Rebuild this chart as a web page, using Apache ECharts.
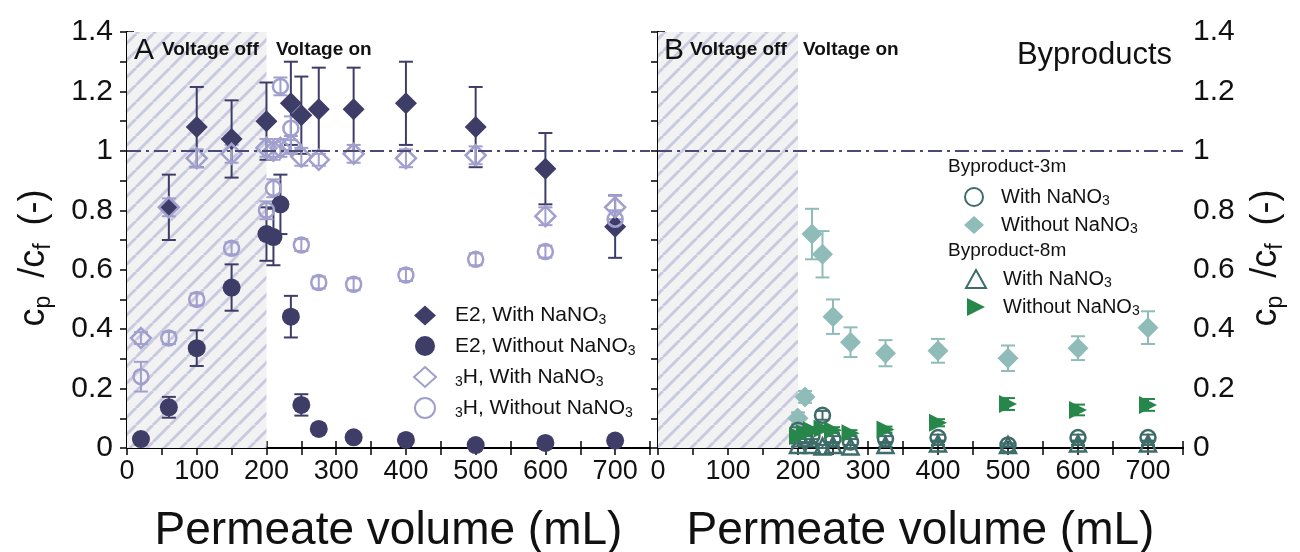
<!DOCTYPE html>
<html>
<head>
<meta charset="utf-8">
<script src="https://cdn.jsdelivr.net/npm/echarts@6/dist/echarts.min.js"></script>
<style>
  html, body { margin: 0; padding: 0; background: #fff; }
  #chart { width: 1300px; height: 552px; }
</style>
</head>
<body>
<div id="chart"></div>
<script>
// [volume mL, cp/cf, error]
const e2With = [[60, 0.81, 0.11], [100, 1.08, 0.135], [150, 1.04, 0.13], [200, 1.10, 0.13], [235, 1.16, 0.14], [250, 1.12, 0.13], [275, 1.14, 0.14], [325, 1.14, 0.14], [400, 1.16, 0.14], [500, 1.08, 0.135], [600, 0.94, 0.12], [700, 0.745, 0.105]]
const e2Without = [[20, 0.03, 0.01], [60, 0.137, 0.035], [100, 0.336, 0.06], [150, 0.54, 0.078], [200, 0.72, 0.09], [210, 0.71, 0.095], [220, 0.82, 0.1], [235, 0.442, 0.07], [250, 0.145, 0.036], [275, 0.064, 0.015], [325, 0.036, 0.01], [400, 0.027, 0.01], [500, 0.01, 0.005], [600, 0.017, 0.005], [700, 0.025, 0.01]]
const h3With = [[20, 0.37, 0.02], [60, 0.81, 0.03], [100, 0.975, 0.03], [150, 0.99, 0.03], [200, 1.01, 0.03], [210, 1.0, 0.03], [220, 1.01, 0.03], [235, 1.02, 0.03], [250, 0.98, 0.03], [275, 0.97, 0.02], [325, 0.99, 0.03], [400, 0.975, 0.03], [500, 0.985, 0.03], [600, 0.78, 0.03], [700, 0.81, 0.04]]
const h3Without = [[20, 0.24, 0.05], [60, 0.37, 0.02], [100, 0.50, 0.02], [150, 0.672, 0.02], [200, 0.80, 0.03], [210, 0.874, 0.03], [220, 1.217, 0.03], [235, 1.076, 0.04], [250, 0.683, 0.02], [275, 0.557, 0.02], [325, 0.551, 0.02], [400, 0.582, 0.02], [500, 0.635, 0.02], [600, 0.661, 0.02], [700, 0.77, 0.03]]

const b3With = [[200, 0.06, 0.01], [210, 0.03, 0.01], [220, 0.04, 0.01], [235, 0.11, 0.015], [250, 0.03, 0.01], [275, 0.02, 0.01], [325, 0.03, 0.01], [400, 0.035, 0.01], [500, 0.01, 0.005], [600, 0.035, 0.01], [700, 0.035, 0.01]]
const b3Without = [[200, 0.10, 0.02], [210, 0.172, 0.02], [220, 0.72, 0.085], [235, 0.652, 0.078], [250, 0.442, 0.058], [275, 0.356, 0.05], [325, 0.319, 0.044], [400, 0.327, 0.04], [500, 0.302, 0.043], [600, 0.336, 0.04], [700, 0.405, 0.055]]
const b8With = [[200, 0.01, 0.005], [220, 0.01, 0.005], [235, 0.005, 0.005], [250, 0.01, 0.005], [275, 0.005, 0.005], [325, 0.01, 0.005], [400, 0.015, 0.005], [500, 0.01, 0.005], [600, 0.015, 0.005], [700, 0.015, 0.005]]
const b8Without = [[200, 0.04, 0.01], [210, 0.05, 0.01], [220, 0.06, 0.01], [235, 0.065, 0.01], [250, 0.06, 0.01], [275, 0.05, 0.01], [325, 0.062, 0.01], [400, 0.085, 0.012], [500, 0.148, 0.02], [600, 0.128, 0.018], [700, 0.145, 0.02]]

const voltageOffEnd = 200
const referenceLevel = 1

const navy = '#3e3d68'
const lav = '#a09fcd'
const tealLight = '#8fbcb8'
const green = '#27874a'
const tealDark = '#3d6c69'
const font = 'Arial, "Liberation Sans", sans-serif'
const rightTri = 'path://M0,0L12,6L0,12Z'

// hatch pattern for the voltage-off region
const hatch = document.createElement('canvas')
hatch.width = 17
hatch.height = 17
const hc = hatch.getContext('2d')
hc.fillStyle = '#f2f2f2'
hc.fillRect(0, 0, 17, 17)
hc.strokeStyle = '#c9c9e0'
hc.lineWidth = 3
for (const k of [-1, 0, 1]) {
  hc.beginPath()
  hc.moveTo(k * 17, 17)
  hc.lineTo(k * 17 + 17, 0)
  hc.stroke()
}

const chart = echarts.init(document.getElementById('chart'))

function errBars(xi, yi, data, color) {
  return {
    type: 'custom',
    xAxisIndex: xi,
    yAxisIndex: yi,
    data: data,
    z: 2,
    silent: true,
    renderItem: (params, api) => {
      const x = api.value(0), y = api.value(1), e = api.value(2)
      const top = api.coord([x, y + e])
      const bot = api.coord([x, y - e])
      const w = 7
      const st = { stroke: color, lineWidth: 2 }
      return {
        type: 'group',
        children: [
          { type: 'line', shape: { x1: top[0], y1: top[1], x2: bot[0], y2: bot[1] }, style: st },
          { type: 'line', shape: { x1: top[0] - w, y1: top[1], x2: top[0] + w, y2: top[1] }, style: st },
          { type: 'line', shape: { x1: bot[0] - w, y1: bot[1], x2: bot[0] + w, y2: bot[1] }, style: st }
        ]
      }
    }
  }
}

function pts(name, xi, yi, data, symbol, size, style) {
  return {
    name: name,
    type: 'scatter',
    xAxisIndex: xi,
    yAxisIndex: yi,
    data: data,
    symbol: symbol,
    symbolSize: size,
    itemStyle: Object.assign({ opacity: 1 }, style),
    z: 3
  }
}

function background(xi, yi) {
  return {
    type: 'scatter',
    xAxisIndex: xi,
    yAxisIndex: yi,
    data: [],
    silent: true,
    z: 1,
    markArea: {
      silent: true,
      itemStyle: { color: { image: hatch, repeat: 'repeat' } },
      data: [[{ xAxis: 0 }, { xAxis: voltageOffEnd }]]
    },
    markLine: {
      silent: true,
      symbol: ['none', 'none'],
      label: { show: false },
      lineStyle: { color: '#4b4a74', width: 2, type: [14, 5, 3, 5] },
      data: [{ yAxis: referenceLevel }]
    }
  }
}

const tickStyle = { show: true, inside: true, length: 7, lineStyle: { color: '#000', width: 1.5 } }
const lineStyle = { show: true, lineStyle: { color: '#000', width: 2 } }

function xAx(grid, pos, labels) {
  const ax = {
    type: 'value', gridIndex: grid, position: pos, min: 0, max: 750, interval: 50,
    axisLine: lineStyle, axisTick: tickStyle, splitLine: { show: false },
    axisLabel: { show: false }
  }
  if (labels) {
    ax.axisLabel = {
      show: true, margin: 10, fontSize: 27, color: '#111', fontFamily: font,
      formatter: v => (v % 100 === 0 && v < 750 ? String(v) : '')
    }
    ax.name = 'Permeate volume (mL)'
    ax.nameLocation = 'middle'
    ax.nameGap = 60
    ax.nameTextStyle = { fontSize: 46, color: '#111', fontFamily: font }
  }
  return ax
}

// spacer tokens widen the title the way the original lettering does
const yName = '{m|c}{s|p}{g| }{m|/c}{s|f}{g| }{m|(-)}{e| }'
const yNameStyle = {
  fontFamily: font, color: '#111',
  rich: {
    m: { fontSize: 36, lineHeight: 42, fontFamily: font, color: '#111' },
    s: { fontSize: 23, lineHeight: 23, verticalAlign: 'bottom', fontFamily: font, color: '#111' },
    g: { width: 18 },
    e: { width: 36 }
  }
}

function yAx(grid, pos, labels, gap) {
  const ax = {
    type: 'value', gridIndex: grid, position: pos, min: 0, max: 1.4, interval: 0.1,
    axisLine: lineStyle, axisTick: tickStyle, splitLine: { show: false },
    axisLabel: { show: false }
  }
  if (labels) {
    ax.axisLabel = {
      show: true, margin: pos === 'left' ? 14 : 10, fontSize: 30, color: '#111', fontFamily: font,
      formatter: v => (Math.round(v * 10) % 2 === 0 ? String(Number(v.toFixed(1))) : '')
    }
    ax.name = yName
    ax.nameLocation = 'middle'
    ax.nameRotate = 90
    ax.nameGap = gap
    ax.nameTextStyle = yNameStyle
  }
  return ax
}

const legendRich = {
  g: { width: 14 },
  n: { fontSize: 21, lineHeight: 24, color: '#111', fontFamily: font },
  s: { fontSize: 14, lineHeight: 14, verticalAlign: 'bottom', color: '#111', fontFamily: font }
}
const legendRichR = {
  g: { width: 12 },
  n: { fontSize: 20, lineHeight: 22, color: '#111', fontFamily: font },
  s: { fontSize: 14, lineHeight: 14, verticalAlign: 'bottom', color: '#111', fontFamily: font }
}
const legendText = {
  'E2 with': '{g| }{n|E2, With NaNO}{s|3}',
  'E2 without': '{g| }{n|E2, Without NaNO}{s|3}',
  '3H with': '{g| }{s|3}{n|H, With NaNO}{s|3}',
  '3H without': '{g| }{s|3}{n|H, Without NaNO}{s|3}',
  '3m with': '{g| }{n|With NaNO}{s|3}',
  '3m without': '{g| }{n|Without NaNO}{s|3}',
  '8m with': '{g| }{n|With NaNO}{s|3}',
  '8m without': '{g| }{n|Without NaNO}{s|3}'
}

const open = c => ({ color: 'transparent', borderColor: c, borderWidth: 2.5 })

chart.setOption({
  backgroundColor: '#fff',
  animation: false,
  grid: [
    { left: 127, top: 32, width: 523, height: 416, outerBoundsMode: 'none' },
    { left: 658, top: 32, width: 525, height: 416, outerBoundsMode: 'none' }
  ],
  xAxis: [xAx(0, 'bottom', true), xAx(0, 'top', false), xAx(1, 'bottom', true), xAx(1, 'top', false)],
  yAxis: [yAx(0, 'left', true, 72), yAx(0, 'right', false), yAx(1, 'left', false), yAx(1, 'right', true, 62)],
  legend: [
    {
      orient: 'vertical', left: 408, top: 300, itemWidth: 22, itemHeight: 20, itemGap: 8,
      data: ['E2 with', 'E2 without', '3H with', '3H without'],
      formatter: n => legendText[n],
      textStyle: { rich: legendRich }
    },
    {
      orient: 'vertical', left: 959, top: 182, itemWidth: 20, itemHeight: 18, itemGap: 7,
      data: ['3m with', '3m without'],
      formatter: n => legendText[n],
      textStyle: { rich: legendRichR }
    },
    {
      orient: 'vertical', left: 960, top: 264, itemWidth: 20, itemHeight: 18, itemGap: 7,
      data: ['8m with', '8m without'],
      formatter: n => legendText[n],
      textStyle: { rich: legendRichR }
    }
  ],
  graphic: [
    { type: 'text', z: 100, x: 134, y: 36, style: { text: 'A', font: '30px ' + font, fill: '#111' } },
    { type: 'text', z: 100, x: 162, y: 40, style: { text: 'Voltage off', font: 'bold 19px ' + font, fill: '#111' } },
    { type: 'text', z: 100, x: 276, y: 40, style: { text: 'Voltage on', font: 'bold 19px ' + font, fill: '#111' } },
    { type: 'text', z: 100, x: 664, y: 36, style: { text: 'B', font: '30px ' + font, fill: '#111' } },
    { type: 'text', z: 100, x: 690, y: 40, style: { text: 'Voltage off', font: 'bold 19px ' + font, fill: '#111' } },
    { type: 'text', z: 100, x: 803, y: 40, style: { text: 'Voltage on', font: 'bold 19px ' + font, fill: '#111' } },
    { type: 'text', z: 100, x: 1172, y: 40, style: { text: 'Byproducts', font: '31px ' + font, fill: '#111', align: 'right' } },
    { type: 'text', z: 100, x: 948, y: 157, style: { text: 'Byproduct-3m', font: '19px ' + font, fill: '#111' } },
    { type: 'text', z: 100, x: 948, y: 241, style: { text: 'Byproduct-8m', font: '19px ' + font, fill: '#111' } }
  ],
  series: [
    background(0, 0),
    background(2, 2),
    errBars(0, 0, e2With, navy),
    errBars(0, 0, e2Without, navy),
    errBars(0, 0, h3With, lav),
    errBars(0, 0, h3Without, lav),
    pts('E2 with', 0, 0, e2With, 'diamond', 22, { color: navy }),
    pts('E2 without', 0, 0, e2Without, 'circle', 18, { color: navy }),
    pts('3H with', 0, 0, h3With, 'diamond', 20, open(lav)),
    pts('3H without', 0, 0, h3Without, 'circle', 15, open(lav)),
    errBars(2, 2, b3With, tealDark),
    errBars(2, 2, b3Without, tealLight),
    errBars(2, 2, b8With, tealDark),
    errBars(2, 2, b8Without, green),
    pts('3m without', 2, 2, b3Without, 'diamond', 21, { color: tealLight }),
    pts('3m with', 2, 2, b3With, 'circle', 15, open(tealDark)),
    pts('8m with', 2, 2, b8With, 'triangle', 16, open(tealDark)),
    pts('8m without', 2, 2, b8Without, rightTri, 18, { color: green })
  ]
})
</script>
</body>
</html>
